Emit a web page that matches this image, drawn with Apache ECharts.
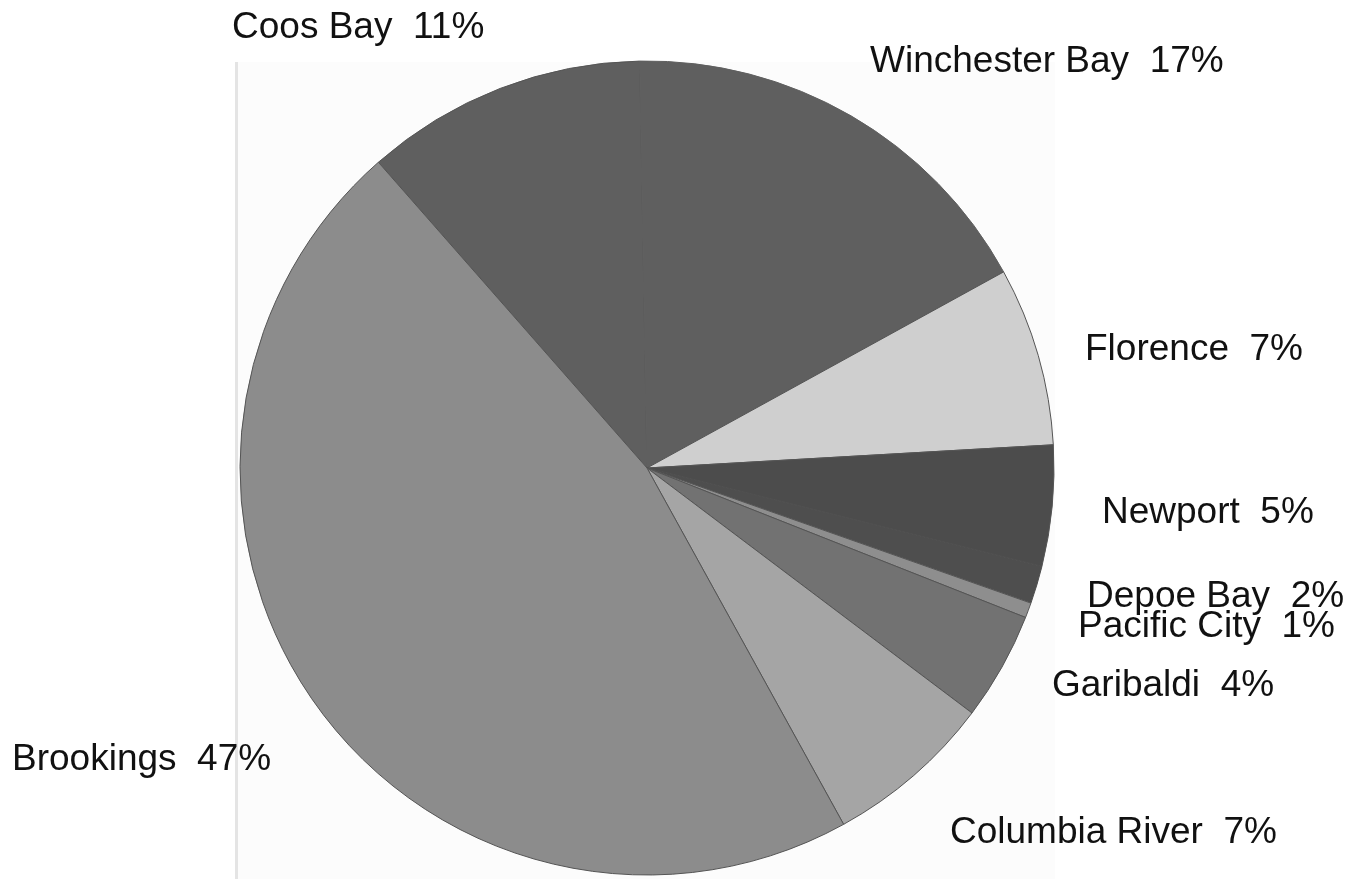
<!DOCTYPE html>
<html>
<head>
<meta charset="utf-8">
<script src="https://cdn.jsdelivr.net/npm/echarts@6/dist/echarts.min.js"></script>
<style>
html,body{margin:0;padding:0;background:#fff;}
#chart{width:1352px;height:879px;}
</style>
</head>
<body>
<div id="chart"></div>
<script>
// Data (percent shares)
const categories = ['Coos Bay', 'Winchester Bay', 'Florence', 'Newport', 'Depoe Bay', 'Pacific City', 'Garibaldi', 'Columbia River', 'Brookings'];
const values = [11.2, 17.3, 7.1, 4.8, 1.5, 0.6, 4.3, 6.7, 46.6];

// Styles (kept separate from data)
const sliceColors = ['#5f5f5f', '#5f5f5f', '#cfcfcf', '#4c4c4c', '#4e4e4e', '#8e8e8e', '#727272', '#a5a5a5', '#8c8c8c'];
const sliceBorders = ['#555555', '#5f5f5f', '#555555', '#555555', '#4e4e4e', '#555555', '#555555', '#555555', '#555555'];
// Label anchor positions (left edge, vertical middle) in pixels
const labelPos = [
  [232, 28], [870, 62], [1085, 350], [1102, 513], [1087, 597],
  [1078, 627], [1052, 686], [950, 833], [12, 760]
];

const chart = echarts.init(document.getElementById('chart'), null, {renderer: 'canvas'});
chart.setOption({
  animation: false,
  backgroundColor: '#ffffff',
  graphic: [
    {type: 'rect', z: -10, shape: {x: 237, y: 62, width: 818, height: 817}, style: {fill: '#fcfcfc'}},
    {type: 'rect', z: -9, shape: {x: 235, y: 62, width: 3, height: 817}, style: {fill: '#e4e4e4'}}
  ],
  series: [{
    type: 'pie',
    center: [647, 468],
    radius: 407,
    startAngle: 131.3,
    clockwise: true,
    avoidLabelOverlap: false,
    silent: true,
    emphasis: {disabled: true},
    itemStyle: {borderWidth: 1},
    label: {
      show: true,
      position: 'outside',
      color: '#111111',
      fontFamily: 'Liberation Sans, Arial, sans-serif',
      fontSize: 37,
      formatter: p => p.name + '  ' + Math.round(p.value) + '%'
    },
    labelLine: {show: false},
    labelLayout: function (params) {
      const pos = labelPos[params.dataIndex];
      return {x: pos[0], y: pos[1], align: 'left', verticalAlign: 'middle', moveOverlap: null};
    },
    data: categories.map((c, i) => ({
      name: c, value: values[i],
      itemStyle: {color: sliceColors[i], borderColor: sliceBorders[i]}
    }))
  }]
});
</script>
</body>
</html>
